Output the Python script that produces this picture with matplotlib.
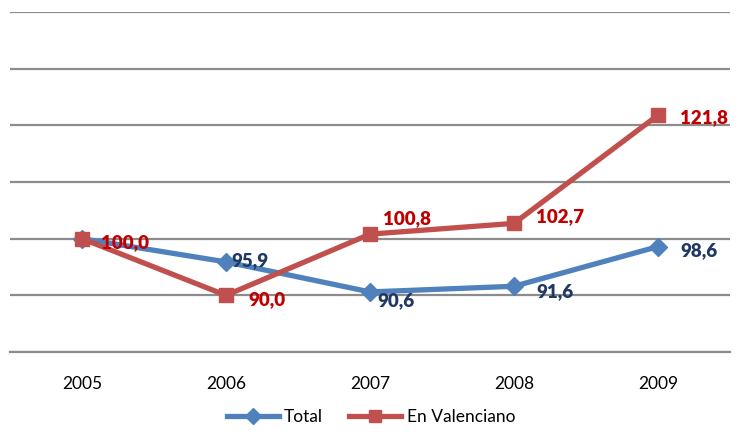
import matplotlib.pyplot as plt

years = ['2005', '2006', '2007', '2008', '2009']
total = [100.0, 95.9, 90.6, 91.6, 98.6]
valenciano = [100.0, 90.0, 100.8, 102.7, 121.8]

# label offsets in points (dx, dy)
total_off = [(0, 0), (4, 1), (5, -6), (16, -4), (16, -3)]
val_off = [(14, -3), (16, -3), (9, 11), (16, 5), (16, -2)]

plt.rcParams['font.family'] = ['Lato', 'DejaVu Sans']

fig = plt.figure(figsize=(7.42, 4.34), dpi=100)
ax = fig.add_axes([10 / 742, 1 - 352 / 434, 720 / 742, 340 / 434])

x = range(len(years))
ax.plot(x, total, color='#4F81BD', lw=3.8, marker='D', ms=9, label='Total', zorder=3)
ax.plot(x, valenciano, color='#C0504D', lw=3.8, marker='s', ms=10, label='En Valenciano', zorder=4)

for i, v in enumerate(total):
    if i == 0:
        continue
    ax.annotate(f'{v:.1f}'.replace('.', ','), (i, v), textcoords='offset points',
                xytext=total_off[i], ha='left', va='center', fontsize=13.5,
                fontweight='heavy', color='#1F3864', zorder=5)
for i, v in enumerate(valenciano):
    ax.annotate(f'{v:.1f}'.replace('.', ','), (i, v), textcoords='offset points',
                xytext=val_off[i], ha='left', va='center', fontsize=13.5,
                fontweight='heavy', color='#C00000', zorder=5)

ax.set_xlim(-0.5, 4.5)
ax.set_ylim(80, 140)
ax.set_yticks(range(80, 141, 10))
ax.yaxis.grid(True, color='#8C8C8C', lw=1.6)
ax.set_axisbelow(True)
ax.tick_params(axis='y', length=0, labelleft=False)
ax.set_xticks(list(x))
ax.set_xticklabels(years, fontsize=12.5)
ax.tick_params(axis='x', length=0, pad=17)
for s in ['top', 'right', 'left']:
    ax.spines[s].set_visible(False)
ax.spines['bottom'].set_color('#8C8C8C')
ax.spines['bottom'].set_linewidth(1.6)

fig.legend(loc='lower center', bbox_to_anchor=(0.5, -0.015), ncol=2, frameon=False,
           fontsize=12.5, handlelength=3, columnspacing=1.5, handletextpad=0.3,
           markerscale=0.85)

fig.savefig('out.png', dpi=100)
